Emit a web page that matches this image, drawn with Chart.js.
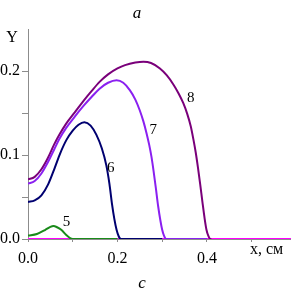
<!DOCTYPE html>
<html><head><meta charset="utf-8">
<script src="https://cdn.jsdelivr.net/npm/chart.js@4"></script>
<style>html,body{margin:0;padding:0;background:#fff}#w{width:291px;height:292px}</style>
</head><body><div id="w"><canvas id="c"></canvas></div>
<script>
// Curve 5 (green)
const x5 = [0, 0.02, 0.038, 0.05, 0.057, 0.065, 0.075, 0.085, 0.093, 0.1, 0.2];
const y5 = [0.004, 0.006, 0.0107, 0.0145, 0.0155, 0.014, 0.0107, 0.005, 0.0015, 0, 0];
// Curve 6 (navy)
const x6 = [0, 0.015, 0.03, 0.045, 0.06, 0.072, 0.086, 0.1, 0.113, 0.126, 0.14, 0.153, 0.165, 0.175, 0.182, 0.188, 0.193, 0.198, 0.203, 0.208, 0.3];
const y6 = [0.044, 0.046, 0.052, 0.065, 0.085, 0.102, 0.118, 0.129, 0.136, 0.139, 0.135, 0.124, 0.108, 0.088, 0.066, 0.041, 0.024, 0.011, 0.003, 0, 0];
// Curve 7 (violet)
const x7 = [0, 0.015, 0.03, 0.045, 0.058, 0.07, 0.085, 0.105, 0.125, 0.142, 0.16, 0.179, 0.198, 0.213, 0.228, 0.24, 0.25, 0.258, 0.265, 0.271, 0.276, 0.281, 0.286, 0.291, 0.296, 0.3, 0.304, 0.309, 0.4];
const y7 = [0.066, 0.069, 0.078, 0.092, 0.106, 0.119, 0.132, 0.146, 0.159, 0.169, 0.179, 0.186, 0.189, 0.186, 0.177, 0.166, 0.153, 0.14, 0.126, 0.112, 0.098, 0.08, 0.06, 0.039, 0.022, 0.011, 0.004, 0, 0];
// Curve 8 (purple)
const x8 = [0, 0.015, 0.03, 0.045, 0.058, 0.07, 0.085, 0.105, 0.125, 0.142, 0.16, 0.179, 0.2, 0.217, 0.24, 0.258, 0.275, 0.295, 0.31, 0.325, 0.337, 0.347, 0.356, 0.364, 0.37, 0.375, 0.38, 0.385, 0.39, 0.395, 0.399, 0.403, 0.408, 0.41];
const y8 = [0.071, 0.074, 0.083, 0.097, 0.112, 0.124, 0.137, 0.151, 0.165, 0.176, 0.187, 0.196, 0.203, 0.207, 0.21, 0.211, 0.2095, 0.203, 0.195, 0.184, 0.173, 0.162, 0.149, 0.134, 0.118, 0.103, 0.085, 0.065, 0.044, 0.024, 0.011, 0.004, 0, 0];
// Baseline curve (magenta)
const x4 = [0, 0.588];
const y4 = [0, 0];
// Curve number labels (data coordinates)
const curveLabels = ['5', '6', '7', '8'];
const labelX = [0.086, 0.185, 0.280, 0.364];
const labelY = [0.0205, 0.084, 0.130, 0.168];
// Axis tick labels
const xTickLabels = {0: '0.0', 0.2: '0.2', 0.4: '0.4'};
const yTickLabels = {0: '0.0', 0.1: '0.1', 0.2: '0.2'};

const pts = (xs, ys) => xs.map((x, i) => ({x, y: ys[i]}));
const ds = (xs, ys, color) => ({data: pts(xs, ys), borderColor: color, borderWidth: 2, pointRadius: 0, fill: false, cubicInterpolationMode: 'monotone'});
const AX = '#8c8c8c';
const serif = "'Liberation Serif', 'Times New Roman', serif";

const textPlugin = {
  id: 'texts',
  afterDatasetsDraw(chart) {
    const ctx = chart.ctx, xs = chart.scales.x, ys = chart.scales.y;
    ctx.save();
    ctx.fillStyle = '#000';
    ctx.textBaseline = 'middle';
    ctx.textAlign = 'center';
    ctx.font = '15px ' + serif;
    curveLabels.forEach((t, i) => ctx.fillText(t, xs.getPixelForValue(labelX[i]), ys.getPixelForValue(labelY[i])));
    ctx.textBaseline = 'alphabetic';
    ctx.font = '16px ' + serif;
    ctx.textAlign = 'center';
    ctx.fillText('Y', 12, 42);
    ctx.textAlign = 'left';
    ctx.fillText('x, см', 250, 254);
    ctx.textAlign = 'center';
    ctx.font = 'italic 17px ' + serif;
    ctx.fillText('a', 137, 18);
    ctx.fillText('c', 142, 288);
    ctx.restore();
  }
};

new Chart(document.getElementById('c'), {
  type: 'line',
  data: {datasets: [
    ds(x5, y5, '#1a8a1a'),
    ds(x6, y6, '#000070'),
    ds(x7, y7, '#8a20f0'),
    ds(x8, y8, '#7a007a'),
    ds(x4, y4, '#ff00ff')
  ]},
  options: {
    responsive: true, maintainAspectRatio: false, animation: false,
    layout: {padding: {top: 29, right: 0, left: 0, bottom: 0}},
    plugins: {legend: {display: false}, tooltip: {enabled: false}},
    scales: {
      x: {
        type: 'linear', min: 0, max: 0.588,
        afterFit(s) { s.height = 53; },
        afterBuildTicks(s) { s.ticks = [0, 0.1, 0.2, 0.3, 0.4, 0.5].map(v => ({value: v})); },
        border: {color: AX, width: 1},
        grid: {drawOnChartArea: false, drawTicks: true, tickLength: 3, tickColor: AX},
        ticks: {autoSkip: false, maxRotation: 0, padding: 7, color: '#000', font: {family: serif, size: 16},
          callback: v => xTickLabels[Math.round(v * 10) / 10] || ''}
      },
      y: {
        min: 0, max: 0.25,
        afterFit(s) { s.width = 28; },
        afterBuildTicks(s) { s.ticks = [0, 0.05, 0.1, 0.15, 0.2].map(v => ({value: v})); },
        border: {color: AX, width: 1},
        grid: {drawOnChartArea: false, drawTicks: true, tickLength: 6, tickColor: AX},
        ticks: {autoSkip: false, padding: 2, color: '#000', font: {family: serif, size: 16},
          callback: v => yTickLabels[Math.round(v * 100) / 100] || ''}
      }
    }
  },
  plugins: [textPlugin]
});
</script></body></html>
